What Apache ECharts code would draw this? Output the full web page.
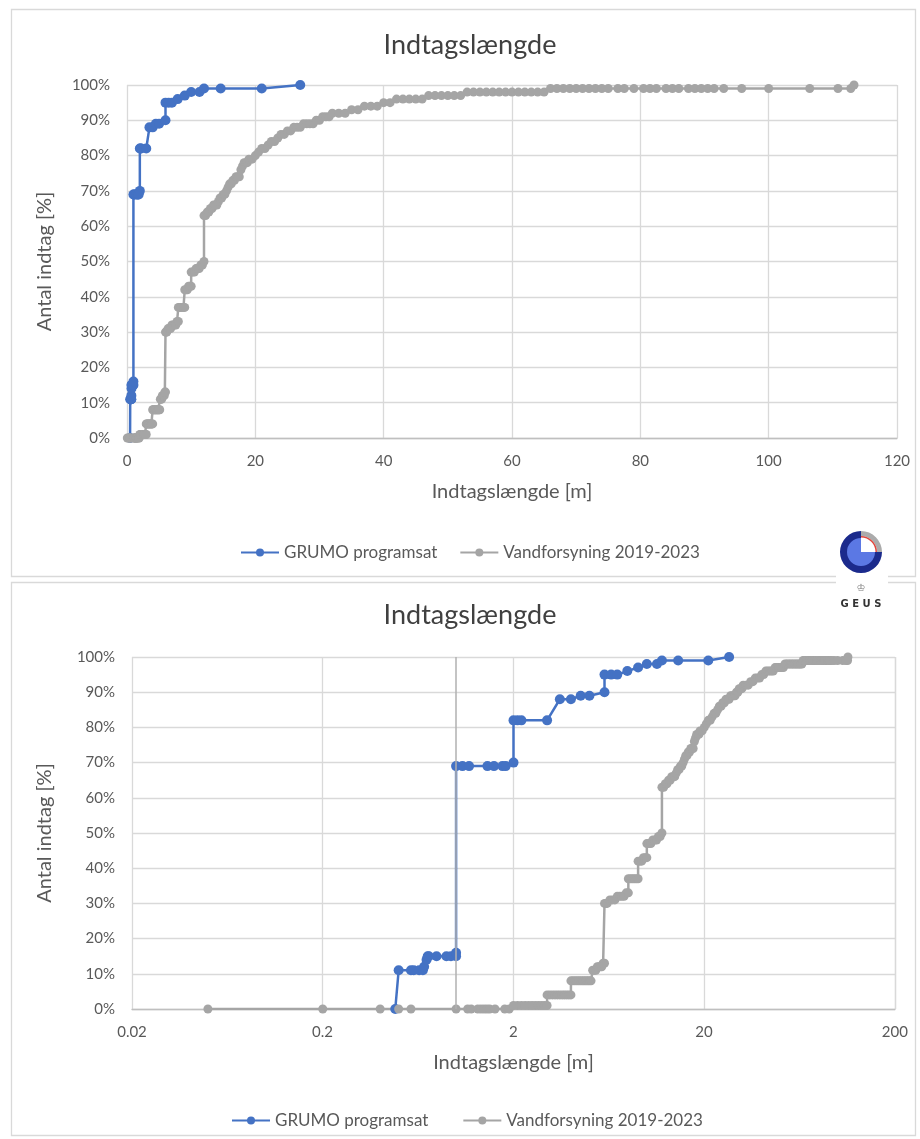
<!DOCTYPE html>
<html>
<head>
<meta charset="utf-8">
<script src="https://cdn.jsdelivr.net/npm/echarts@6/dist/echarts.min.js"></script>
<style>
  html, body { margin: 0; padding: 0; background: #ffffff; }
  #chart { width: 920px; height: 1139px; }
</style>
</head>
<body>
<div id="chart"></div>
<script>
// GRUMO programsat: intake length [m] and cumulative share of intakes [%]
const grumoLength = [0.48, 0.5, 0.58, 0.6, 0.64, 0.67, 0.68, 0.7, 0.71, 0.72, 0.79, 0.89, 0.94, 1.0, 1.0, 1.0,
  1.08, 1.17, 1.46, 1.58, 1.75, 1.82, 2.0, 2.0, 2.1, 2.2, 3.0, 3.5, 4.0, 4.5, 5.0, 6.0, 6.0, 6.5, 7.0, 7.9,
  9.0, 10.0, 11.3, 12.0, 14.6, 21.0, 27.0];
const grumoShare = [0, 11, 11, 11, 11, 11, 12, 14, 15, 15, 15, 15, 15, 15, 16, 69,
  69, 69, 69, 69, 69, 69, 70, 82, 82, 82, 82, 88, 88, 89, 89, 90, 95, 95, 95, 96,
  97, 98, 98, 99, 99, 99, 100];

// Vandforsyning 2019-2023: intake length [m] and cumulative share of intakes [%]
const vandLength = [
  0.05, 0.2, 0.4, 0.5, 0.58, 1.0, 1.15, 1.2, 1.3, 1.35, 1.4, 1.45, 1.5, 1.6, 1.8, 1.9,
  2.0, 2.1, 2.2, 2.3, 2.4, 2.5, 2.6, 2.7, 2.8, 2.9, 3.0,
  3.0, 3.1, 3.2, 3.3, 3.4, 3.5, 3.6, 3.7, 3.8, 3.9, 4.0,
  4.0, 4.1, 4.2, 4.3, 4.4, 4.5, 4.6, 4.7, 4.8, 4.9, 5.0, 5.1,
  5.2, 5.3, 5.4, 5.5, 5.6, 5.7, 5.8, 5.9, 6.0,
  6.0, 6.1, 6.2, 6.4, 6.6, 6.8, 7.0, 7.2, 7.4, 7.6, 7.8, 8.0,
  8.0, 8.2, 8.4, 8.6, 8.8, 9.0,
  9.0, 9.2, 9.4, 9.6, 9.8, 10.0,
  10.0, 10.25, 10.5, 10.75, 11.0, 11.25, 11.5, 11.75, 12.0,
  12.0, 12.25, 12.5, 12.75, 13.0, 13.25, 13.5, 13.75, 14.0, 14.25, 14.5, 14.75, 15.0, 15.25, 15.5, 15.75,
  16.0, 16.25, 16.5, 16.75, 17.0, 17.25, 17.5, 17.75, 18.0, 18.25, 18.5, 18.75, 19.0, 19.5, 20.0, 20.5,
  21.0, 21.5, 22.0, 22.5, 23.0, 23.5, 24.0, 24.5, 25.0, 25.5, 26.0, 26.5, 27.0, 27.5, 28.0, 28.5,
  29.0, 29.5, 30.0, 30.5, 31.0, 31.5, 32.0, 33.0, 34.0, 35.0, 36.0, 37.0, 38.0, 39.0, 40.0, 41.0,
  42.0, 43.0, 44.0, 45.0, 46.0, 47.0, 48.0, 49.0, 50.0, 51.0, 52.0, 53.0, 54.0, 55.0, 56.0, 57.0,
  58.0, 59.0, 60.0, 61.0, 62.0, 63.0, 64.0, 65.0, 66.0, 67.0, 68.0, 69.0, 70.0, 71.0, 72.0, 73.0,
  74.0, 75.0, 76.5, 77.5, 79.0, 80.5, 81.5, 82.5, 84.0, 85.0, 86.0, 87.5, 88.5, 89.5, 90.5, 91.5,
  93.0, 95.8, 100.0, 106.4, 110.8, 112.8, 113.3];
const vandShare = [
  0, 0, 0, 0, 0, 0, 0, 0, 0, 0, 0, 0, 0, 0, 0, 0,
  1, 1, 1, 1, 1, 1, 1, 1, 1, 1, 1,
  4, 4, 4, 4, 4, 4, 4, 4, 4, 4, 4,
  8, 8, 8, 8, 8, 8, 8, 8, 8, 8, 8, 8,
  11, 11, 11, 12, 12, 12, 12, 13, 13,
  30, 30, 30, 31, 31, 31, 32, 32, 32, 32, 33, 33,
  37, 37, 37, 37, 37, 37,
  42, 42, 42, 43, 43, 43,
  47, 47, 47, 48, 48, 48, 49, 49, 50,
  63, 63, 64, 64, 65, 65, 66, 66, 66, 67, 68, 68, 69, 69, 70, 71,
  72, 72, 73, 73, 74, 74, 74, 76, 77, 78, 78, 78, 79, 79, 80, 81,
  82, 82, 83, 84, 84, 85, 86, 86, 87, 87, 88, 88, 88, 89, 89, 89,
  89, 90, 90, 91, 91, 91, 92, 92, 92, 93, 93, 94, 94, 94, 95, 95,
  96, 96, 96, 96, 96, 97, 97, 97, 97, 97, 97, 98, 98, 98, 98, 98,
  98, 98, 98, 98, 98, 98, 98, 98, 99, 99, 99, 99, 99, 99, 99, 99,
  99, 99, 99, 99, 99, 99, 99, 99, 99, 99, 99, 99, 99, 99, 99, 99,
  99, 99, 99, 99, 99, 99, 100];

const seriesNames = ['GRUMO programsat', 'Vandforsyning 2019-2023'];
const chartTitle = 'Indtagslængde';
const xAxisTitle = 'Indtagslængde [m]';
const yAxisTitle = 'Antal indtag [%]';

const BLUE = '#4472C4';
const GRAY = '#A5A5A5';
const TEXT = '#595959';
const GRID = '#d9d9d9';
const FONT = 'Lato, "Liberation Sans", sans-serif';

const pairs = (xs, ys) => xs.map((x, i) => [x, ys[i]]);
const grumoData = pairs(grumoLength, grumoShare);
const vandData = pairs(vandLength, vandShare);

function lineSeries(name, data, color, gridIdx, size, extra) {
  return Object.assign({
    name: name,
    type: 'line',
    xAxisIndex: gridIdx,
    yAxisIndex: gridIdx,
    data: data,
    symbol: 'circle',
    symbolSize: size,
    showSymbol: true,
    showAllSymbol: true,
    animation: false,
    lineStyle: { color: color, width: 2.5 },
    itemStyle: { color: color },
    emphasis: { disabled: true }
  }, extra || {});
}

const axisNameStyle = { color: TEXT, fontSize: 20, fontFamily: FONT };
const tickStyle = { color: TEXT, fontSize: 15, fontFamily: FONT, margin: 16 };
const legendText = { color: TEXT, fontSize: 17, fontFamily: FONT };

function yAxis(gridIdx, gap) {
  return {
    gridIndex: gridIdx,
    type: 'value',
    min: 0, max: 100, interval: 10,
    name: yAxisTitle,
    nameLocation: 'middle',
    nameGap: gap,
    nameTextStyle: axisNameStyle,
    axisLine: { show: false },
    axisTick: { show: false },
    axisLabel: { formatter: '{value}%', color: TEXT, fontSize: 15, fontFamily: FONT, margin: 17 },
    splitLine: { lineStyle: { color: GRID, width: 1.3 } }
  };
}

const option = {
  backgroundColor: '#ffffff',
  animation: false,
  textStyle: { fontFamily: FONT },
  title: [
    { text: chartTitle, left: 465, top: 27, textAlign: 'center',
      textStyle: { color: '#404040', fontSize: 27, fontWeight: 'normal', fontFamily: FONT } },
    { text: chartTitle, left: 465, top: 597, textAlign: 'center',
      textStyle: { color: '#404040', fontSize: 27, fontWeight: 'normal', fontFamily: FONT } }
  ],
  legend: [
    { left: 235, top: 539, itemWidth: 38, itemHeight: 10, itemGap: 22,
      data: seriesNames, textStyle: legendText },
    { left: 226, top: 1107, itemWidth: 38, itemHeight: 10, itemGap: 34,
      data: seriesNames, textStyle: legendText }
  ],
  grid: [
    { left: 127, top: 85, width: 770, height: 353 },
    { left: 132, top: 657, width: 763, height: 352 }
  ],
  xAxis: [
    {
      gridIndex: 0, type: 'value', min: 0, max: 120, interval: 20,
      name: xAxisTitle, nameLocation: 'middle', nameGap: 44, nameTextStyle: axisNameStyle,
      axisLine: { show: true, lineStyle: { color: '#bfbfbf', width: 1.3 } },
      axisTick: { show: false },
      axisLabel: tickStyle,
      splitLine: { lineStyle: { color: GRID, width: 1.3 } }
    },
    {
      gridIndex: 1, type: 'log', logBase: 10, min: 0.02, max: 200, interval: 1,
      name: xAxisTitle, nameLocation: 'middle', nameGap: 44, nameTextStyle: axisNameStyle,
      axisLine: { show: true, lineStyle: { color: '#bfbfbf', width: 1.3 } },
      axisTick: { show: false },
      axisLabel: Object.assign({}, tickStyle, { formatter: v => String(+Number(v).toPrecision(3)) }),
      splitLine: { lineStyle: { color: GRID, width: 1.3 } }
    }
  ],
  yAxis: [yAxis(0, 72), yAxis(1, 77)],
  series: [
    lineSeries(seriesNames[0], grumoData, BLUE, 0, 10),
    lineSeries(seriesNames[1], vandData, GRAY, 0, 9),
    lineSeries(seriesNames[0], grumoData, BLUE, 1, 10),
    lineSeries(seriesNames[1], vandData, GRAY, 1, 9, {
      markLine: {
        silent: true, symbol: 'none', animation: false,
        label: { show: false },
        lineStyle: { color: '#b0b0b0', width: 1.5, type: 'solid' },
        data: [{ xAxis: 1 }]
      }
    })
  ],
  graphic: { elements: [
    // panel frames
    { type: 'rect', z: -10, silent: true, shape: { x: 11.5, y: 9.5, width: 904, height: 567 },
      style: { fill: 'none', stroke: GRID, lineWidth: 1.3 } },
    { type: 'rect', z: -10, silent: true, shape: { x: 11.5, y: 582.5, width: 904, height: 553 },
      style: { fill: 'none', stroke: GRID, lineWidth: 1.3 } },
    // logo
    { type: 'group', z: 100, silent: true, children: [
      { type: 'rect', shape: { x: 836, y: 570, width: 52, height: 18 }, style: { fill: '#ffffff' } },
      { type: 'sector', shape: { cx: 861, cy: 552, r: 21, r0: 0, startAngle: 0, endAngle: Math.PI * 1.5, clockwise: true },
        style: { fill: '#1b2a8c' } },
      { type: 'sector', shape: { cx: 861, cy: 552, r: 21, r0: 16, startAngle: Math.PI * 1.5, endAngle: Math.PI * 2, clockwise: true },
        style: { fill: '#ababab' } },
      { type: 'sector', shape: { cx: 861, cy: 552, r: 16, r0: 14.5, startAngle: Math.PI * 1.5, endAngle: Math.PI * 2, clockwise: true },
        style: { fill: '#e0463c' } },
      { type: 'sector', shape: { cx: 861, cy: 552, r: 14, r0: 0, startAngle: 0, endAngle: Math.PI * 1.5, clockwise: true },
        style: { fill: '#5b78e4' } },
      { type: 'text', style: { x: 861, y: 588, text: '\u2654', fill: '#7a7a7a', font: '10px "DejaVu Sans"', align: 'center', verticalAlign: 'middle' } },
      { type: 'text', style: { x: 861, y: 604, text: 'G E U S', fill: '#333333', font: 'bold 10px "DejaVu Sans"', align: 'center', verticalAlign: 'middle' } }
    ] }
  ] }
};

const chart = echarts.init(document.getElementById('chart'), null, { renderer: 'canvas' });
chart.setOption(option);
</script>
</body>
</html>
